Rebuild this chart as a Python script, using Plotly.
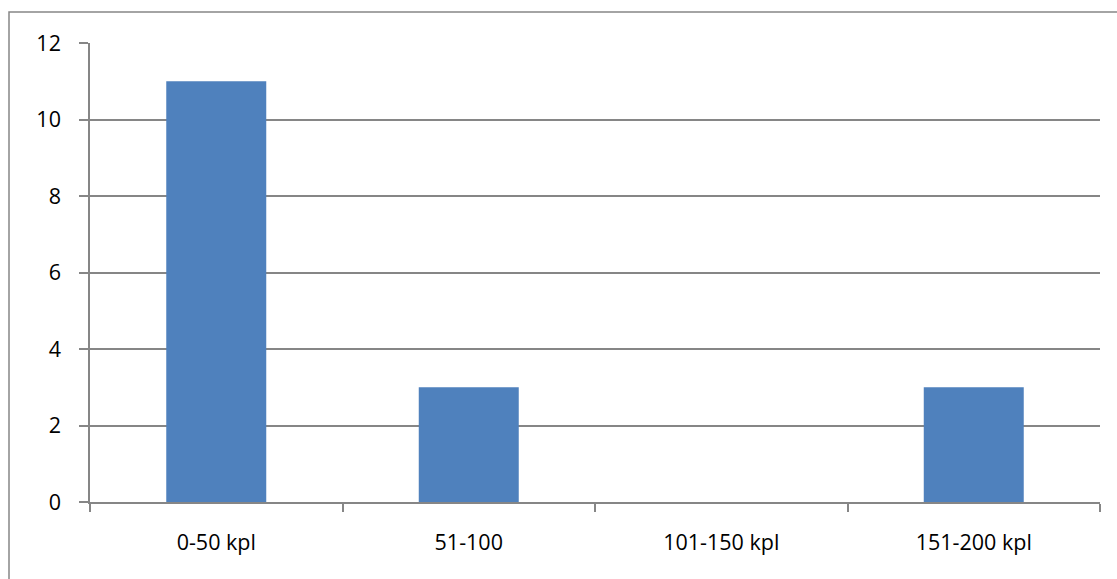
import plotly.graph_objects as go

# Distance bands and counts
categories = ["0-50 kpl", "51-100", "101-150 kpl", "151-200 kpl"]
counts = [11, 3, 0, 3]
y_ticks = [0, 2, 4, 6, 8, 10, 12]

W, H = 1117, 579
L, R, T, B = 90, 17, 43, 77
pw, ph = W - L - R, H - T - B

fig = go.Figure(
    go.Bar(
        x=categories,
        y=counts,
        marker=dict(color="#4F81BD", line=dict(width=0)),
        hoverinfo="x+y",
    )
)

axis_grey = "#868686"
font = dict(family="Open Sans, Lato, sans-serif", size=21.5, color="#000000")

fig.update_layout(
    width=W,
    height=H,
    margin=dict(l=L, r=R, t=T, b=B, pad=0),
    paper_bgcolor="white",
    plot_bgcolor="white",
    bargap=0.604,
    showlegend=False,
    font=font,
    xaxis=dict(
        type="category",
        showline=True,
        linecolor=axis_grey,
        linewidth=1.5,
        ticks="outside",
        tickson="boundaries",
        ticklen=8,
        tickcolor=axis_grey,
        tickwidth=1.5,
        showgrid=False,
        ticklabelstandoff=20,
        tickfont=font,
    ),
    yaxis=dict(
        range=[0, 12],
        tickvals=y_ticks,
        showline=True,
        linecolor=axis_grey,
        linewidth=1.5,
        ticks="outside",
        ticklen=9,
        tickcolor=axis_grey,
        tickwidth=1.5,
        showgrid=True,
        gridcolor=axis_grey,
        gridwidth=1.5,
        zeroline=False,
        ticklabelstandoff=14,
        tickfont=font,
    ),
    shapes=[
        # outer chart frame
        dict(
            type="rect",
            xref="paper",
            yref="paper",
            x0=(9 - L) / pw,
            x1=(W + 5 - L) / pw,
            y0=(T + ph - (H + 5)) / ph,
            y1=(T + ph - 12) / ph,
            line=dict(color=axis_grey, width=1.5),
            fillcolor="rgba(0,0,0,0)",
            layer="below",
        )
    ],
)

fig.write_html("out.html")
